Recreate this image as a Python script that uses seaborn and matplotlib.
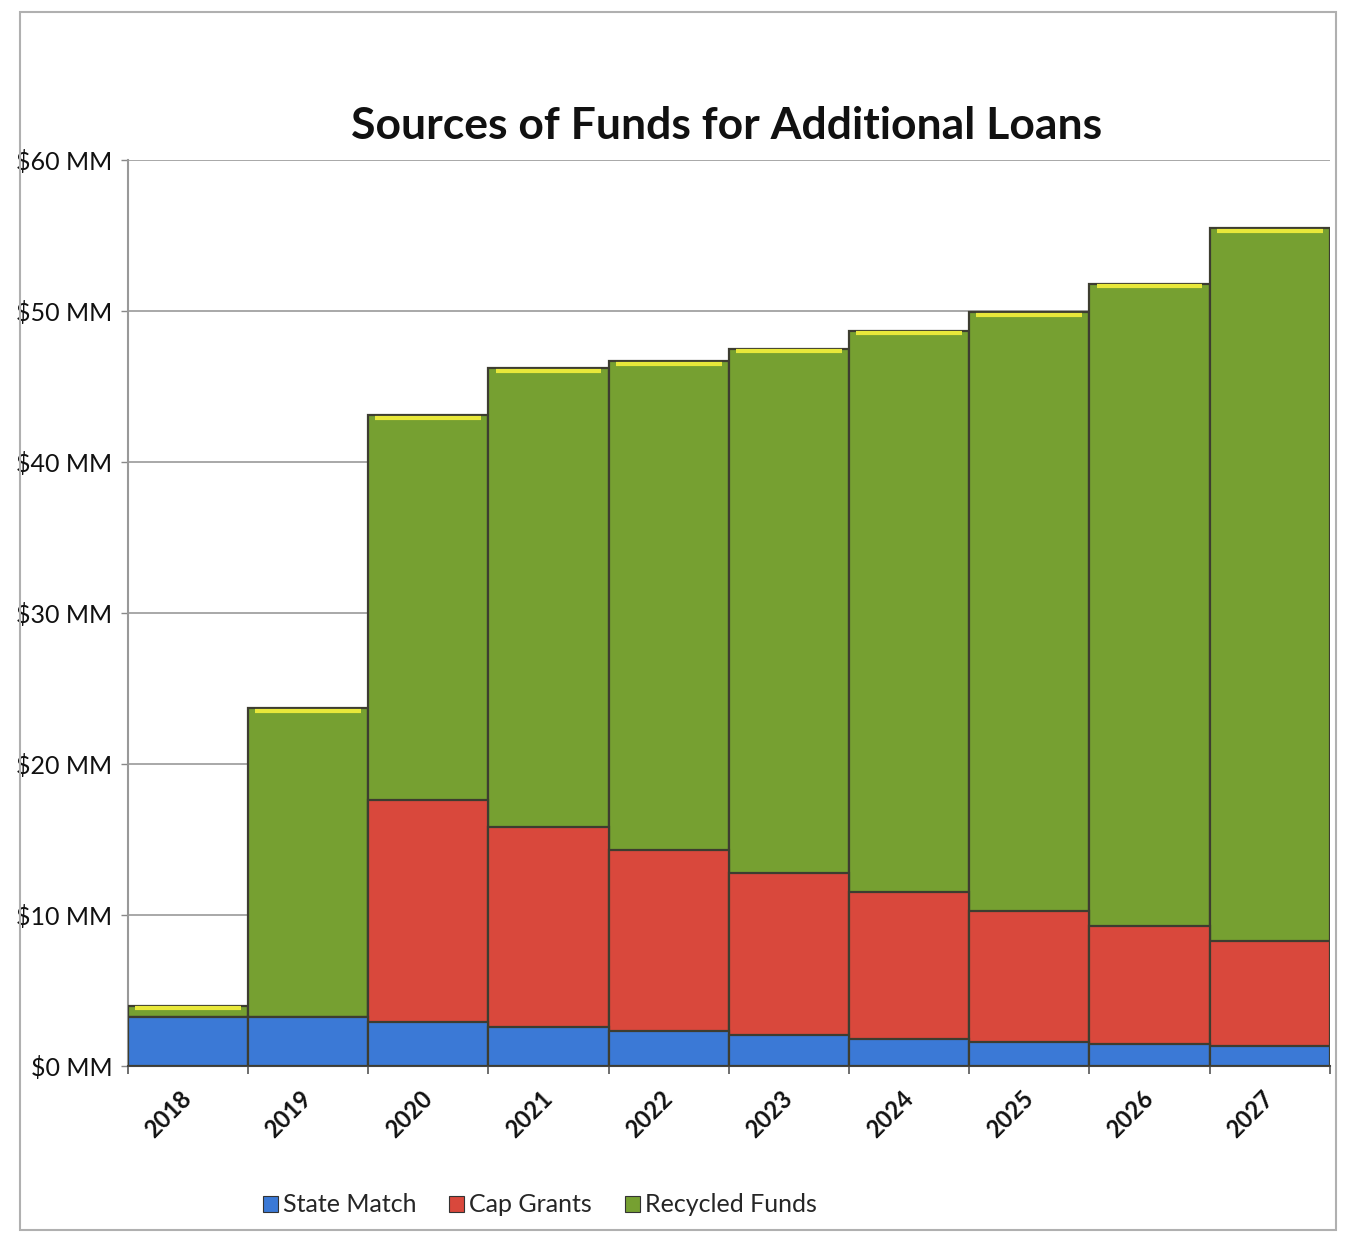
import matplotlib
matplotlib.use("Agg")
import matplotlib.pyplot as plt
import matplotlib.patches as mpatches
import seaborn as sns
import pandas as pd
import numpy as np

years = ["2018", "2019", "2020", "2021", "2022", "2023", "2024", "2025", "2026", "2027"]
state_match = [3.25, 3.25, 2.9, 2.6, 2.3, 2.05, 1.8, 1.6, 1.45, 1.3]
cap_grants = [0.0, 0.0, 14.7, 13.25, 12.0, 10.75, 9.7, 8.7, 7.85, 7.0]
recycled_funds = [0.75, 20.45, 25.5, 30.35, 32.4, 34.7, 37.2, 39.6, 42.5, 47.2]
series_names = ["State Match", "Cap Grants", "Recycled Funds"]
y_ticks = [0, 10, 20, 30, 40, 50, 60]
y_labels = ["$0 MM", "$10 MM", "$20 MM", "$30 MM", "$40 MM", "$50 MM", "$60 MM"]
title = "Sources of Funds for Additional Loans"

colors = {"State Match": "#3b79d6", "Cap Grants": "#d9483c", "Recycled Funds": "#76a031"}
edge = "#3d3d30"

sns.set_theme(style="white")
plt.rcParams["font.family"] = ["Lato", "DejaVu Sans"]

df = pd.DataFrame({"year": years, "State Match": state_match,
                   "Cap Grants": cap_grants, "Recycled Funds": recycled_funds})
df["c1"] = df["State Match"]
df["c2"] = df["c1"] + df["Cap Grants"]
df["c3"] = df["c2"] + df["Recycled Funds"]

fig = plt.figure(figsize=(13.46, 12.36), dpi=100)
ax = fig.add_axes([0.095, 0.1375, 0.893, 0.7331])

for col, name in [("c3", "Recycled Funds"), ("c2", "Cap Grants"), ("c1", "State Match")]:
    sns.barplot(data=df, x="year", y=col, color=colors[name], saturation=1,
                width=1.0, edgecolor=edge, linewidth=1.6, ax=ax, zorder=3)

# yellow highlight along top of the recycled funds segment
xs = np.arange(len(years))
ax.hlines(df["c3"] - 0.18, xs - 0.44, xs + 0.44, colors="#e8e83a", linewidth=3, zorder=4)

ax.set_ylim(0, 60)
ax.set_xlim(-0.5, len(years) - 0.5)
ax.set_yticks(y_ticks)
ax.set_yticklabels(y_labels, fontsize=18, color="#111111")
ax.set_xticks(xs)
ax.set_xticklabels(years, rotation=45, fontsize=17, color="#111111", fontweight="bold",
                   ha="right", va="center", rotation_mode="anchor")
ax.set_xticks(np.arange(-0.5, len(years), 1.0), minor=True)
ax.tick_params(axis="x", which="major", length=0, pad=21)
ax.tick_params(axis="x", which="minor", length=6, width=1.2, color="#555555", direction="out", bottom=True)
ax.tick_params(axis="y", which="major", length=5, width=1.0, color="#888888", direction="out", left=True, pad=6)
ax.set_xlabel("")
ax.set_ylabel("")
ax.yaxis.grid(True, color="#9a9a9a", linewidth=1.2, zorder=0)
ax.set_axisbelow(True)
for s in ["top", "right"]:
    ax.spines[s].set_visible(False)
ax.spines["left"].set_color("#999999")
ax.spines["left"].set_linewidth(1.5)
ax.spines["bottom"].set_color("#444444")
ax.spines["bottom"].set_linewidth(1.5)

fig.text(0.54, 0.898, title, ha="center", va="center", fontsize=32, fontweight="bold", color="#111111")

handles = [mpatches.Patch(facecolor=colors[n], edgecolor="#333333", linewidth=0.8) for n in series_names]
fig.legend(handles, series_names, loc="center", bbox_to_anchor=(540 / 1346, 1 - 1205 / 1236),
           ncol=3, frameon=False, fontsize=18, handlelength=0.6, handleheight=0.6,
           handletextpad=0.2, columnspacing=1.3)

# outer chart border
border = mpatches.Rectangle((20 / 1346, 1 - 1230 / 1236), (1336 - 20) / 1346, (1230 - 12) / 1236,
                            transform=fig.transFigure, fill=False, edgecolor="#b0b0b0", linewidth=1.5)
fig.patches.append(border)

fig.savefig("out.png", dpi=100, facecolor="white")
